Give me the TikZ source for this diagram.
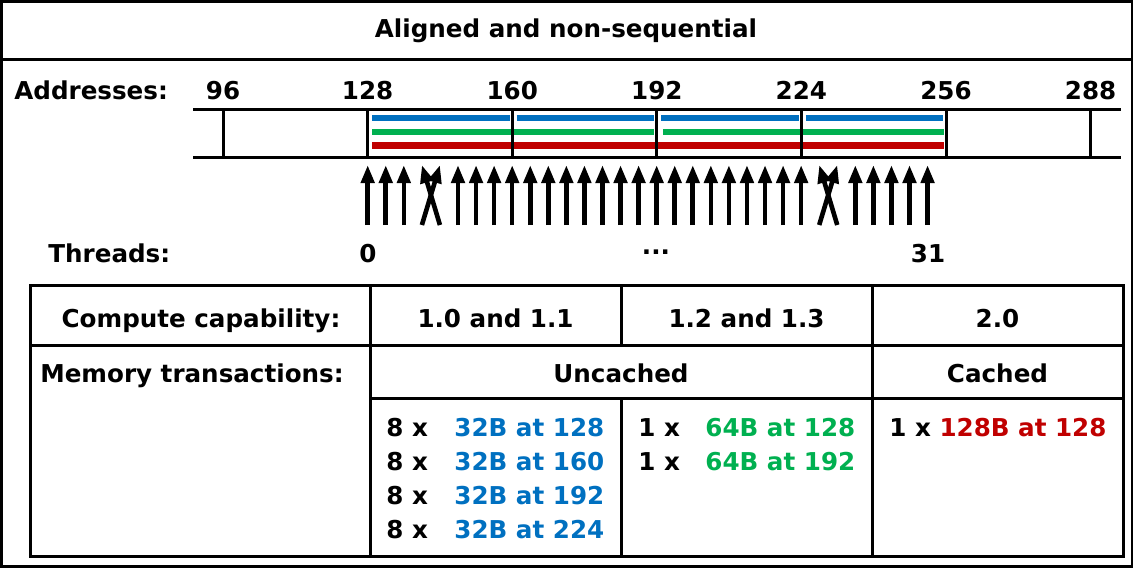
\documentclass[tikz,border=0pt]{standalone}
\usepackage{fontspec}
\setmainfont{DejaVu Sans}
\usetikzlibrary{arrows.meta}
\definecolor{memblue}{HTML}{0070C0}
\definecolor{memgreen}{HTML}{00B050}
\definecolor{memred}{HTML}{C00000}

\begin{document}
\begin{tikzpicture}[x=0.5pt, y=-0.5pt,
		lbl/.style={font=\fontsize{12.3}{15}\selectfont\bfseries, inner sep=0pt},
		memline/.style={line width=1.5pt},
		membar/.style={line width=3.4pt},
		thrarrow/.style={line width=2.3pt, -{Triangle[width=6.5pt, length=9pt]}}]
		%%%%% START %%%%%
		\useasboundingbox (0, 0) rectangle (1134, 568);
		
		\draw[line width=1.3pt] (1.5, 1.5) rectangle (1132, 566.5);
		\draw[line width=1.3pt] (1.5, 59.5) -- (1132, 59.5);
		\node[lbl, anchor=base] (title) at (566, 37.5) {Aligned and non-sequential};
		
		\node[lbl, anchor=base west] (addrlbl) at (14, 99.5) {Addresses:};
		\node[lbl, anchor=base west] (thrlbl) at (48, 262) {Threads:};
		
		% memory segments
		\foreach \k in {1,...,4}
			\draw[membar, memblue] (223+144.6*\k+4.5, 118) -- (223+144.6*\k+142, 118);
		\draw[membar, memgreen] (372.1, 132) -- (654.3, 132);
		\draw[membar, memgreen] (662.8, 132) -- (943.5, 132);
		\draw[membar, memred] (372.1, 145.5) -- (943.5, 145.5);
		
		\draw[memline] (193, 109.5) -- (1121, 109.5);
		\draw[memline] (193, 157) -- (1121, 157);
		\foreach \k/\addr in {0/96,1/128,2/160,3/192,4/224,5/256,6/288} {
			\node[lbl, anchor=base] (addr\k) at (223+144.6*\k, 99.5) {\addr};
			\draw[memline] (223+144.6*\k, 109.5) -- (223+144.6*\k, 157);
		}
		
		% threads
		\foreach \i in {0,...,31} {
			\coordinate (t\i) at (367.7+18.06*\i, 225);
			\coordinate (h\i) at (367.7+18.06*\i, 165);
		}
		\foreach \i in {0,1,2,5,6,...,24,27,28,...,31}
			\draw[thrarrow] (t\i) -- (h\i);
		\draw[thrarrow] (t3) -- (h4);
		\draw[thrarrow] (t4) -- (h3);
		\draw[thrarrow] (t25) -- (h26);
		\draw[thrarrow] (t26) -- (h25);
		
		\node[lbl, anchor=base] (thr0) at (368, 262) {0};
		\node[lbl, anchor=base] (thrdots) at (656, 254) {...};
		\node[lbl, anchor=base] (thr31) at (928, 262) {31};
		
		% table
		\draw[memline] (30, 285.5) rectangle (1123, 556);
		\draw[memline] (30, 345) -- (1123, 345);
		\draw[memline] (370, 398) -- (1123, 398);
		\draw[memline] (370, 285.5) -- (370, 556);
		\draw[memline] (872, 285.5) -- (872, 556);
		\draw[memline] (621, 285.5) -- (621, 345) (621, 398) -- (621, 556);
		
		\node[lbl, anchor=base] (cclbl) at (201, 327) {Compute capability:};
		\node[lbl, anchor=base] (cc1) at (495.5, 327) {1.0 and 1.1};
		\node[lbl, anchor=base] (cc2) at (746.5, 327) {1.2 and 1.3};
		\node[lbl, anchor=base] (cc3) at (997.5, 327) {2.0};
		
		\node[lbl, anchor=base] (mtlbl) at (192, 382) {Memory transactions:};
		\node[lbl, anchor=base] (uncached) at (621, 382) {Uncached};
		\node[lbl, anchor=base] (cached) at (997.5, 382) {Cached};
		
		\foreach \j/\off in {0/128,1/160,2/192,3/224} {
			\node[lbl, anchor=base west] (n32x\j) at (386, 436.7+33.9*\j) {8 x};
			\node[lbl, anchor=base west, memblue] (n32\j) at (454, 436.7+33.9*\j) {32B at \off};
		}
		\foreach \j/\off in {0/128,1/192} {
			\node[lbl, anchor=base west] (n64x\j) at (638, 436.7+33.9*\j) {1 x};
			\node[lbl, anchor=base west, memgreen] (n64\j) at (705, 436.7+33.9*\j) {64B at \off};
		}
		\node[lbl, anchor=base west] (n128) at (889, 436.7) {1 x \textcolor{memred}{128B at 128}};
		
		%%%%% END %%%%%
	\end{tikzpicture}
\end{document}
